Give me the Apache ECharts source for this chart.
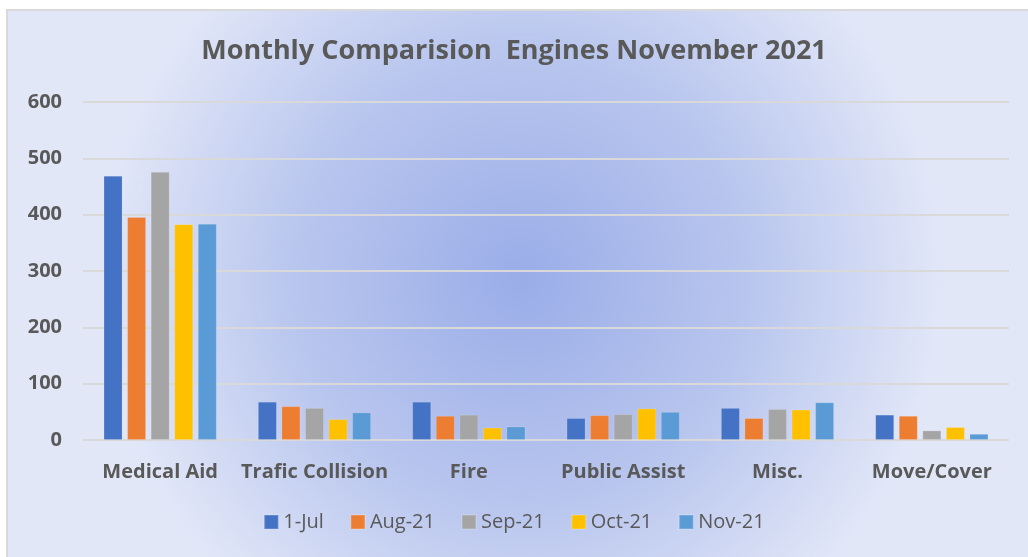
<!DOCTYPE html>
<html>
<head>
<meta charset="utf-8">
<script src="https://cdn.jsdelivr.net/npm/echarts@6/dist/echarts.min.js"></script>
<style>
html,body{margin:0;padding:0;background:#fff;}
#c{width:1028px;height:557px;}
</style>
</head>
<body>
<div id="c"></div>
<script>
const categories = ['Medical Aid', 'Trafic Collision', 'Fire', 'Public Assist', 'Misc.', 'Move/Cover'];
const seriesNames = ['1-Jul', 'Aug-21', 'Sep-21', 'Oct-21', 'Nov-21'];
const jul = [469, 68, 68, 39, 57, 45];
const aug = [396, 60, 43, 44, 39, 43];
const sep = [476, 57, 45, 46, 55, 17];
const oct = [383, 37, 22, 56, 54, 23];
const nov = [384, 49, 24, 50, 67, 11];
const yTicks = [0, 100, 200, 300, 400, 500, 600];

const colors = ['#4472C4', '#ED7D31', '#A5A5A5', '#FFC000', '#5B9BD5'];
const values = [jul, aug, sep, oct, nov];
const font = '"Open Sans", sans-serif';

const chart = echarts.init(document.getElementById('c'));
chart.setOption({
  animation: false,
  textStyle: { fontFamily: font },
  graphic: [{
    type: 'rect', z: -10, silent: true,
    shape: { x: 7, y: 10, width: 1030, height: 560 },
    style: {
      fill: { type: 'radial', x: 0.5, y: 0.48, r: 0.75,
        colorStops: [{ offset: 0, color: '#9aade8' }, { offset: 0.55, color: '#b9c6ee' }, { offset: 1, color: '#e2e7f8' }] },
      stroke: '#d9d9d9', lineWidth: 2
    }
  }],
  title: {
    text: 'Monthly Comparision  Engines November 2021',
    left: 'center', top: 33,
    textStyle: { fontFamily: font, fontSize: 27, fontWeight: 'bold', color: '#595959' }
  },
  legend: {
    data: seriesNames, bottom: 20, left: 'center',
    itemWidth: 14, itemHeight: 14, itemGap: 26,
    icon: 'rect',
    textStyle: { fontFamily: font, fontSize: 20, color: '#595959' }
  },
  grid: { left: 83, right: 19, top: 102, bottom: 117, containLabel: false },
  xAxis: {
    type: 'category', data: categories,
    axisLine: { show: false }, axisTick: { show: false },
    axisLabel: { interval: 0, fontFamily: font, fontSize: 20, fontWeight: 'bold', color: '#595959', margin: 22 }
  },
  yAxis: {
    type: 'value', min: 0, max: 600, interval: 100,
    axisLine: { show: false }, axisTick: { show: false },
    axisLabel: { fontFamily: font, fontSize: 20, fontWeight: 'bold', color: '#595959', margin: 21,
      formatter: v => yTicks.includes(v) ? String(v) : '' },
    splitLine: { lineStyle: { color: '#d9d9d9', width: 2 } }
  },
  series: seriesNames.map((n, i) => ({
    name: n, type: 'bar', data: values[i],
    barWidth: 19, barGap: '24%',
    itemStyle: { color: colors[i], borderColor: 'rgba(255,255,255,0.15)', borderWidth: 1 }
  }))
});
</script>
</body>
</html>
